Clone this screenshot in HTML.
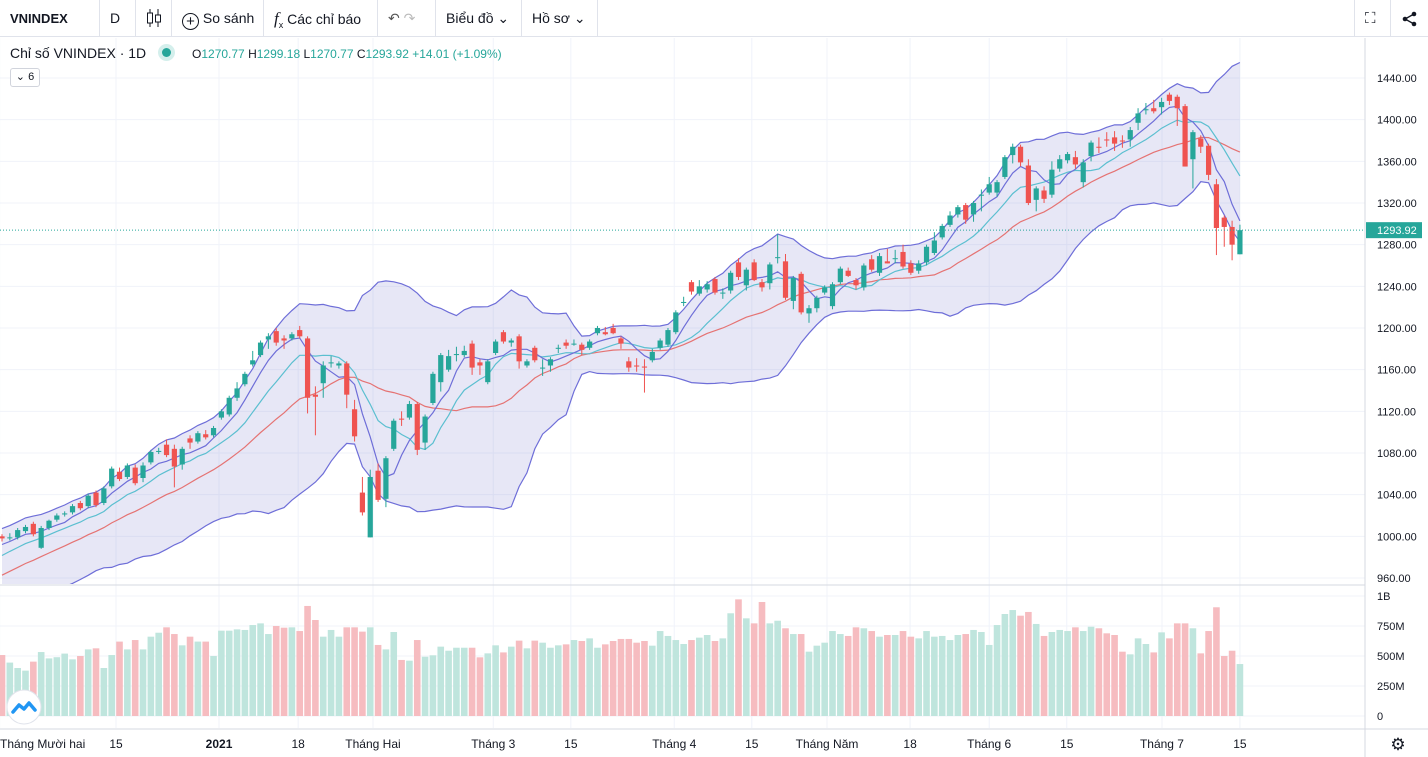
<!DOCTYPE html>
<html><head><meta charset="utf-8"><style>
html,body{margin:0;padding:0;background:#fff;width:1428px;height:757px;overflow:hidden;font-family:"Liberation Sans","DejaVu Sans",sans-serif;}
#tb{position:absolute;left:0;top:0;width:1428px;height:37px;border-bottom:1px solid #e0e3eb;box-sizing:border-box;font-size:14px;color:#131722;}
.tbi{position:absolute;top:0;height:37px;line-height:37px;border-right:1px solid #e0e3eb;box-sizing:border-box;padding:0 10px;white-space:nowrap;}
#legend{position:absolute;left:10px;top:45px;font-size:14px;color:#131722;white-space:nowrap;}
#ohlc{position:absolute;left:192px;top:47px;font-size:12px;color:#26a69a;white-space:nowrap;}
svg{position:absolute;left:0;top:0;}
</style></head><body>
<svg id="chart" width="1428" height="757"></svg>
<div id="tb">
<div class="tbi" style="left:0;width:100px;font-weight:bold;font-size:13px">VNINDEX</div>
<div class="tbi" style="left:100px;width:36px">D</div>
<div class="tbi" style="left:136px;width:36px"><svg width="16" height="18" style="position:absolute;left:10px;top:9px"><line x1="4" y1="0" x2="4" y2="18" stroke="#131722"/><rect x="1.5" y="4" width="5" height="10" fill="#fff" stroke="#131722"/><line x1="12" y1="0" x2="12" y2="18" stroke="#131722"/><rect x="9.5" y="6" width="5" height="7" fill="#fff" stroke="#131722"/></svg></div>
<div class="tbi" style="left:172px;width:92px"><span style="display:inline-block;width:15px;height:15px;border:1.3px solid #131722;border-radius:50%;text-align:center;line-height:15px;font-size:15px;vertical-align:-3px">+</span> So sánh</div>
<div class="tbi" style="left:264px;width:114px"><i style="font-family:'Liberation Serif',serif;font-size:17px">f</i><sub style="font-size:9px">x</sub> Các chỉ báo</div>
<div class="tbi" style="left:378px;width:58px;color:#555">↶ <span style="color:#bbb">↷</span></div>
<div class="tbi" style="left:436px;width:86px">Biểu đồ ⌄</div>
<div class="tbi" style="left:522px;width:76px">Hồ sơ ⌄</div>
<div class="tbi" style="left:1354px;width:37px;border-left:1px solid #e0e3eb;font-size:15px">⛶</div>
<div class="tbi" style="left:1391px;width:37px;border-right:none"><svg width="16" height="16" style="position:absolute;left:11px;top:11px"><circle cx="12" cy="3" r="2.3" fill="#131722"/><circle cx="3" cy="8" r="2.3" fill="#131722"/><circle cx="12" cy="13" r="2.3" fill="#131722"/><path d="M12 3 L3 8 L12 13" stroke="#131722" fill="none" stroke-width="1.3"/></svg></div>
</div>
<div id="legend">Chỉ số VNINDEX · 1D <span style="display:inline-block;width:9px;height:9px;border-radius:50%;background:#26a69a;box-shadow:0 0 0 4px #d4efec;margin-left:12px;vertical-align:1px"></span></div>
<div id="ohlc"><span style="color:#131722">O</span>1270.77 <span style="color:#131722">H</span>1299.18 <span style="color:#131722">L</span>1270.77 <span style="color:#131722">C</span>1293.92 +14.01 (+1.09%)</div>
<div style="position:absolute;left:10px;top:68px;width:28px;height:17px;border:1px solid #d1d4dc;border-radius:3px;font-size:11px;line-height:17px;text-align:center;color:#131722;background:#fff">⌄ 6</div>
<script>
const opens=[1000,999,999,1005,1012,989,1008,1016,1021,1023,1032,1029,1042,1032,1048,1062,1057,1066,1056,1071,1081,1088,1084,1069,1094,1091,1098,1097,1114,1117,1133,1146,1165,1174,1189,1197,1190,1190,1198,1190,1136,1147,1166,1164,1166,1122,1042,999,1063,1036,1084,1113,1114,1127,1090,1128,1148,1160,1174,1174,1185,1167,1148,1176,1196,1186,1192,1164,1181,1162,1164,1180,1186,1185,1184,1181,1195,1196,1200,1190,1168,1164,1163,1169,1181,1184,1196,1224,1244,1233,1237,1247,1234,1236,1263,1241,1263,1244,1243,1268,1264,1226,1252,1214,1219,1234,1221,1244,1255,1246,1239,1266,1253,1264,1267,1273,1262,1255,1263,1272,1287,1299,1309,1318,1309,1327,1330,1330,1345,1366,1374,1356,1323,1332,1328,1353,1361,1364,1340,1365,1374,1381,1383,1380,1381,1397,1409,1411,1412,1424,1422,1413,1362,1382,1375,1338,1306,1297,1270.77];
const highs=[1002,1003,1008,1011,1014,1010,1016,1022,1024,1031,1034,1041,1044,1048,1067,1066,1070,1069,1071,1083,1085,1093,1088,1086,1097,1101,1102,1106,1122,1135,1148,1158,1178,1188,1195,1200,1193,1196,1202,1192,1144,1168,1173,1168,1168,1131,1057,1064,1070,1077,1113,1120,1130,1129,1117,1158,1176,1179,1182,1183,1188,1170,1170,1189,1198,1190,1194,1170,1183,1170,1172,1184,1189,1189,1186,1189,1202,1201,1204,1192,1172,1171,1170,1180,1190,1200,1217,1230,1246,1246,1245,1249,1238,1255,1267,1258,1266,1247,1263,1290,1271,1250,1254,1222,1231,1241,1244,1259,1258,1248,1262,1270,1272,1276,1275,1280,1265,1265,1280,1292,1300,1312,1318,1320,1322,1333,1345,1342,1366,1377,1376,1362,1336,1336,1360,1366,1369,1370,1362,1380,1383,1388,1389,1385,1393,1411,1416,1419,1421,1426,1424,1415,1390,1385,1377,1343,1308,1303,1299.18];
const lows=[995,996,997,1003,1000,988,1006,1014,1019,1021,1025,1027,1028,1030,1046,1053,1055,1049,1052,1069,1079,1076,1047,1064,1084,1089,1093,1095,1112,1115,1130,1144,1163,1172,1180,1183,1180,1188,1190,1118,1097,1133,1162,1161,1123,1091,1020,999,1033,1028,1082,1106,1112,1078,1083,1126,1139,1158,1168,1172,1155,1155,1146,1174,1185,1182,1161,1162,1167,1154,1158,1176,1180,1183,1174,1179,1193,1193,1194,1180,1158,1158,1138,1167,1179,1182,1194,1221,1232,1231,1234,1232,1228,1233,1246,1236,1245,1235,1237,1262,1227,1218,1213,1205,1215,1232,1218,1242,1249,1237,1236,1254,1250,1262,1262,1257,1251,1252,1260,1270,1285,1297,1306,1300,1302,1312,1328,1326,1343,1358,1355,1318,1312,1320,1325,1350,1358,1353,1335,1360,1368,1374,1370,1373,1374,1390,1405,1406,1405,1414,1394,1355,1334,1368,1342,1270,1278,1265,1270.77];
const closes=[998,999,1006,1009,1002,1008,1015,1020,1022,1029,1027,1039,1030,1046,1065,1055,1068,1051,1068,1081,1082,1078,1067,1084,1090,1099,1095,1104,1120,1133,1142,1156,1169,1186,1192,1186,1188,1194,1192,1133,1134,1164,1167,1166,1136,1096,1023,1057,1035,1075,1111,1112,1127,1083,1115,1156,1174,1173,1175,1178,1162,1164,1168,1187,1187,1188,1168,1168,1169,1162,1170,1181,1183,1185,1179,1187,1200,1194,1195,1185,1162,1163,1162,1177,1188,1198,1215,1225,1235,1240,1242,1234,1234,1253,1249,1256,1246,1239,1261,1268,1229,1248,1215,1219,1229,1239,1242,1257,1250,1241,1260,1256,1269,1262,1267,1259,1253,1262,1278,1284,1298,1308,1316,1304,1320,1328,1338,1340,1364,1374,1359,1320,1334,1324,1352,1362,1367,1357,1359,1378,1373,1380,1377,1379,1390,1406,1410,1408,1417,1418,1411,1355,1388,1374,1347,1296,1297,1280,1293.92];
const volumes=[0.508,0.445,0.40,0.378,0.453,0.533,0.48,0.49,0.52,0.472,0.5,0.555,0.564,0.40,0.508,0.62,0.555,0.633,0.555,0.661,0.694,0.739,0.683,0.589,0.661,0.62,0.62,0.5,0.711,0.711,0.722,0.717,0.758,0.772,0.683,0.75,0.736,0.739,0.708,0.917,0.8,0.661,0.717,0.661,0.739,0.739,0.703,0.739,0.592,0.555,0.7,0.467,0.461,0.633,0.494,0.506,0.578,0.544,0.569,0.569,0.569,0.489,0.522,0.589,0.53,0.578,0.628,0.564,0.628,0.611,0.569,0.589,0.597,0.633,0.625,0.647,0.569,0.597,0.625,0.642,0.642,0.611,0.625,0.586,0.708,0.667,0.633,0.6,0.633,0.653,0.675,0.625,0.647,0.856,0.972,0.814,0.772,0.95,0.772,0.794,0.731,0.683,0.683,0.536,0.586,0.611,0.708,0.683,0.667,0.739,0.731,0.708,0.661,0.675,0.675,0.708,0.661,0.647,0.708,0.661,0.667,0.633,0.675,0.683,0.717,0.7,0.592,0.758,0.85,0.883,0.836,0.867,0.767,0.667,0.7,0.717,0.708,0.739,0.708,0.744,0.731,0.689,0.675,0.536,0.514,0.647,0.6,0.53,0.697,0.647,0.772,0.772,0.731,0.522,0.708,0.906,0.5,0.544,0.433];
// closes before the visible window (used only to warm up the indicators)
const priorCloses=[925,930,935,940,938,945,950,955,958,962,960,968,972,975,980,985,988,992,998];
const priceTicks=[960,1000,1040,1080,1120,1160,1200,1240,1280,1320,1360,1400,1440];
const volTicks=[0,0.25,0.5,0.75,1];
const volTickLabels=["0","250M","500M","750M","1B"];
const timeTickIdx=[-0.3,14.55,27.7,37.8,47.35,62.7,72.6,85.8,95.7,105.3,115.9,126,135.9,148.05,158];
const timeTickLabels=["Tháng Mười hai","15","2021","18","Tháng Hai","Tháng 3","15","Tháng 4","15","Tháng Năm","18","Tháng 6","15","Tháng 7","15"];

const NS="http://www.w3.org/2000/svg";
const svg=document.getElementById('chart');
const PL=0,PR=1365,PT=38,PB=584,VT=586,VB=728;
const xS=i=>2+i*7.835;
const yS=p=>78+(1440-p)*500/480;
const vS=v=>716-v*120;
function mk(tag,attrs,parent){const e=document.createElementNS(NS,tag);for(const k in attrs)e.setAttribute(k,attrs[k]);(parent||svg).appendChild(e);return e;}
const GREEN="#26a69a",RED="#ef5350";
const grid=mk('g',{});


priceTicks.forEach(p=>{const l=mk('line',{x1:0,x2:PR,y1:yS(p),y2:yS(p),stroke:'#f0f3fa'},grid);});
volTicks.forEach(v=>{const l=mk('line',{x1:0,x2:PR,y1:vS(v),y2:vS(v),stroke:'#f0f3fa'},grid);});
timeTickIdx.forEach(t=>{const l=mk('line',{x1:xS(t),x2:xS(t),y1:PT,y2:VB,stroke:'#f0f3fa'},grid);});
const all=priorCloses.concat(closes),off=priorCloses.length;
function sma(n,i){let s=0,c=0;for(let k=Math.max(0,i-n+1);k<=i;k++){s+=all[k];c++;}return s/c;}
const up=[],lo=[],mid=[],m5=[],m10=[];
closes.forEach((c,i)=>{const j=i+off;const m=sma(20,j);let v=0,cnt=0;for(let k=Math.max(0,j-19);k<=j;k++){v+=(all[k]-m)**2;cnt++;}const sd=Math.sqrt(v/cnt);mid.push(m);up.push(m+2*sd);lo.push(m-2*sd);m5.push(sma(5,j));m10.push(sma(10,j));});
const pts=a=>a.map((v,i)=>xS(i).toFixed(1)+','+yS(v).toFixed(1));
const clip=mk('clipPath',{id:'pc'});mk('rect',{x:0,y:PT,width:PR,height:PB-PT},clip);
const ig=mk('g',{'clip-path':'url(#pc)'});


const fill=mk('polygon',{points:pts(up).concat(pts(lo).reverse()).join(' '),fill:'rgba(120,123,205,0.18)'},ig);


[[up,'#6e6ed8','bollinger-upper'],[lo,'#6e6ed8','bollinger-lower'],[mid,'#e57373','bollinger-basis'],[m10,'#5bbfd0','ma-10'],[m5,'#6e6ed8','ma-5']].forEach(([a,c,n])=>{const l=mk('polyline',{points:pts(a).join(' '),fill:'none',stroke:c,'stroke-width':1.2},ig);});
const vg=mk('g',{});


volumes.forEach((v,i)=>{const r=mk('rect',{x:xS(i)-3.3,y:vS(v),width:6.6,height:716-vS(v),fill:closes[i]>=opens[i]?'#bfe5dd':'#f6bcc0'},vg);});
const cg=mk('g',{});


closes.forEach((c,i)=>{const o=opens[i],col=c>=o?GREEN:RED,x=xS(i);const g=mk('g',{},cg);
mk('line',{x1:x,x2:x,y1:yS(highs[i]),y2:yS(lows[i]),stroke:col,'stroke-width':1},g);
const t=yS(Math.max(o,c)),b=yS(Math.min(o,c));mk('rect',{x:x-2.6,y:t,width:5.2,height:Math.max(1,b-t),fill:col},g);});
const lp=closes[closes.length-1];
const ll=mk('line',{x1:0,x2:PR,y1:yS(lp),y2:yS(lp),stroke:GREEN,'stroke-dasharray':'1 2'});


mk('line',{x1:0,x2:PR,y1:585,y2:585,stroke:'#d6d9e0'});
mk('line',{x1:PR,x2:PR,y1:PT,y2:757,stroke:'#d6d9e0'});
mk('line',{x1:0,x2:1428,y1:VB+1,y2:VB+1,stroke:'#d6d9e0'});
const pa=mk('g',{'font-size':11,fill:'#131722'});


priceTicks.forEach(p=>{const t=mk('text',{x:1377,y:yS(p)+4},pa);t.textContent=p.toFixed(2);});
volTicks.forEach((v,k)=>{const t=mk('text',{x:1377,y:vS(v)+4},pa);t.textContent=volTickLabels[k];});
const lb=mk('rect',{x:1366,y:yS(lp)-8,width:56,height:16,fill:GREEN});


const lt=mk('text',{x:1377,y:yS(lp)+4,'font-size':11,fill:'#fff'});
lt.textContent=lp.toFixed(2);


const ta=mk('g',{'font-size':12,fill:'#131722'});


timeTickIdx.forEach((t,k)=>{const e=mk('text',{x:k===0?0:xS(t),y:748,'text-anchor':k===0?'start':'middle'},ta);e.textContent=timeTickLabels[k];if(timeTickLabels[k]==='2021')e.setAttribute('font-weight','bold');});
const gear=mk('text',{x:1398,y:750,'font-size':17,fill:'#131722','text-anchor':'middle'});
gear.textContent='⚙';


const logo=mk('circle',{cx:24,cy:707,r:17,fill:'#fff',stroke:'#e0e3eb'});


mk('path',{d:'M13 712 l6 -7 l5 4 l5 -6 l6 7',fill:'none',stroke:'#2196f3','stroke-width':3.5,'stroke-linecap':'round','stroke-linejoin':'round'});
</script>
</body></html>
